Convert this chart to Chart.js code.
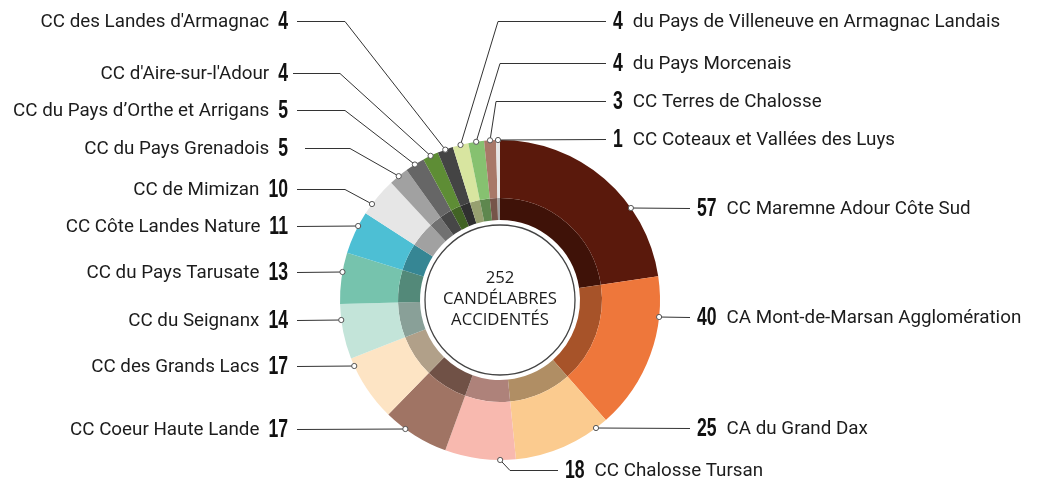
<!DOCTYPE html>
<html>
<head>
<meta charset="utf-8">
<script src="https://cdn.jsdelivr.net/npm/chart.js@4"></script>
<style>
  body { margin: 0; background: #fff; }
  canvas { display: block; }
</style>
</head>
<body>
<canvas id="myChart" width="1037" height="480"></canvas>
<script>
// data, clockwise from the top
var categories = [
  'CC Maremne Adour Côte Sud',
  'CA Mont-de-Marsan Agglomération',
  'CA du Grand Dax',
  'CC Chalosse Tursan',
  'CC Coeur Haute Lande',
  'CC des Grands Lacs',
  'CC du Seignanx',
  'CC du Pays Tarusate',
  'CC Côte Landes Nature',
  'CC de Mimizan',
  'CC du Pays Grenadois',
  'CC du Pays d’Orthe et Arrigans',
  "CC d'Aire-sur-l'Adour",
  "CC des Landes d'Armagnac",
  'du Pays de Villeneuve en Armagnac Landais',
  'du Pays Morcenais',
  'CC Terres de Chalosse',
  'CC Coteaux et Vallées des Luys'
];
var values = [57, 40, 25, 18, 17, 17, 14, 13, 11, 10, 5, 5, 4, 4, 4, 4, 3, 1];
var total = 252;
var centerLines = [String(total), 'CANDÉLABRES', 'ACCIDENTÉS'];

var colors = [
  '#5a190c', '#ee773b', '#fbcb8f', '#f8b9af', '#a07464', '#fde4c4',
  '#c3e4d9', '#76c3ad', '#4dbfd4', '#e6e6e6', '#a1a1a1', '#666666',
  '#5e8d35', '#444444', '#d8e5a0', '#86c170', '#a87868', '#e5e5e5'
];

// label placement (side, text line y, line end x near the text, optional elbow x, anchor)
var labelLayout = [
  { side: 'r', y: 208, x: 690 },
  { side: 'r', y: 317, x: 690 },
  { side: 'r', y: 428, x: 690 },
  { side: 'r', y: 470, x: 558, elbow: 510, frac: 0.22 },
  { side: 'l', y: 429, x: 297 },
  { side: 'l', y: 366, x: 297 },
  { side: 'l', y: 320, x: 297 },
  { side: 'l', y: 272, x: 297 },
  { side: 'l', y: 226, x: 297 },
  { side: 'l', y: 189, x: 297, elbow: 345, frac: 0.28 },
  { side: 'l', y: 148, x: 305, elbow: 350, frac: 0.5 },
  { side: 'l', y: 110, x: 297, elbow: 345, frac: 0.5 },
  { side: 'l', y: 73, x: 293, elbow: 340, frac: 0.5 },
  { side: 'l', y: 21, x: 297, elbow: 345, frac: 0.5 },
  { side: 'r', y: 21, x: 606, elbow: 498, frac: 0.5 },
  { side: 'r', y: 63, x: 606, elbow: 500, frac: 0.5 },
  { side: 'r', y: 101, x: 606, elbow: 496, frac: 0.5 },
  { side: 'r', y: 139, x: 606, frac: 0.5 }
];

function darken(hex) {
  var n = parseInt(hex.slice(1), 16);
  var r = Math.round(((n >> 16) & 255) * 0.7);
  var g = Math.round(((n >> 8) & 255) * 0.7);
  var b = Math.round((n & 255) * 0.7);
  return 'rgb(' + r + ',' + g + ',' + b + ')';
}

var NUM_FONT = 'bold 26px "Liberation Sans Narrow", "Liberation Sans", sans-serif';
var TXT_FONT = '18.8px Roboto, sans-serif';

function drawNumber(ctx, txt, x, y, alignRight) {
  ctx.save();
  ctx.font = NUM_FONT;
  var s = 9.8 / ctx.measureText('0').width;
  var w = ctx.measureText(txt).width * s;
  ctx.translate(alignRight ? x - w : x, y);
  ctx.scale(s, 1);
  ctx.textAlign = 'left';
  ctx.textBaseline = 'middle';
  ctx.fillStyle = '#111';
  ctx.fillText(txt, 0, 1);
  ctx.restore();
  return w;
}

var leaders = {
  id: 'leaders',
  beforeDraw: function(chart) {
    var c = chart.ctx;
    c.save();
    c.fillStyle = '#fff';
    c.fillRect(0, 0, chart.width, chart.height);
    c.restore();
  },
  afterDatasetsDraw: function(chart) {
    var c = chart.ctx;
    var meta = chart.getDatasetMeta(0);
    var inner = chart.getDatasetMeta(1).data[0];
    meta.data.forEach(function(arc, i) {
      var L = labelLayout[i];
      var p = arc.getProps(['x', 'y', 'outerRadius', 'startAngle', 'endAngle'], true);
      var px, py;
      if (L.frac === undefined) {
        var dy = L.y - p.y;
        var dx = Math.sqrt(Math.max(p.outerRadius * p.outerRadius - dy * dy, 0));
        px = L.side === 'l' ? p.x - dx : p.x + dx;
        py = L.y;
      } else {
        var a = p.startAngle + (p.endAngle - p.startAngle) * L.frac;
        px = p.x + p.outerRadius * Math.cos(a);
        py = p.y + p.outerRadius * Math.sin(a);
      }
      c.save();
      c.strokeStyle = '#333';
      c.lineWidth = 1;
      c.beginPath();
      c.moveTo(L.x, L.y + 0.5);
      if (L.elbow !== undefined) c.lineTo(L.elbow, L.y + 0.5);
      c.lineTo(px, py);
      c.stroke();
      c.beginPath();
      c.arc(px, py, 2.6, 0, Math.PI * 2);
      c.fillStyle = '#fff';
      c.fill();
      c.strokeStyle = '#555';
      c.stroke();
      c.restore();

      c.save();
      c.font = TXT_FONT;
      c.fillStyle = '#1c1c1c';
      c.textBaseline = 'middle';
      if (L.side === 'l') {
        var nw = drawNumber(c, String(values[i]), 288, L.y, true);
        c.textAlign = 'right';
        c.fillText(categories[i], 288 - nw - 9, L.y + 1);
      } else {
        var nx = L.x + 7;
        var nw2 = drawNumber(c, String(values[i]), nx, L.y, false);
        c.textAlign = 'left';
        c.fillText(categories[i], nx + nw2 + 10, L.y + 1);
      }
      c.restore();
    });

    // centre circle and text
    c.save();
    c.beginPath();
    c.arc(inner.x, inner.y, 75, 0, Math.PI * 2);
    c.strokeStyle = '#444';
    c.lineWidth = 1.3;
    c.stroke();
    c.fillStyle = '#1c1c1c';
    c.font = '16.7px "Open Sans", sans-serif';
    c.textAlign = 'center';
    c.textBaseline = 'middle';
    centerLines.forEach(function(t, k) {
      c.fillText(t, inner.x, inner.y - 22 + k * 21);
    });
    c.restore();
  }
};

var ctx = document.getElementById('myChart').getContext('2d');
new Chart(ctx, {
  type: 'doughnut',
  data: {
    labels: categories,
    datasets: [
      { data: values, backgroundColor: colors, borderWidth: 0, weight: 58 },
      { data: values, backgroundColor: colors.map(darken), borderWidth: 0, weight: 22 }
    ]
  },
  options: {
    responsive: false,
    devicePixelRatio: 1,
    animation: false,
    cutout: 80,
    layout: { padding: { left: 340, right: 377, top: 140, bottom: 20 } },
    plugins: { legend: { display: false }, tooltip: { enabled: false } }
  },
  plugins: [leaders]
});
</script>
</body>
</html>
